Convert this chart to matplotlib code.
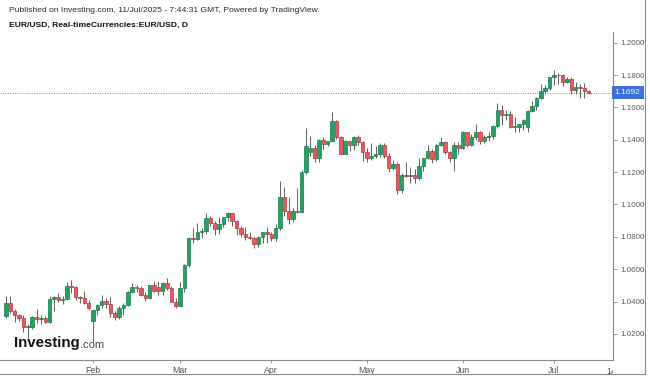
import matplotlib
matplotlib.use("Agg")
import matplotlib.pyplot as plt
import matplotlib.transforms as mtransforms
from matplotlib.lines import Line2D
import pandas as pd

plt.rcParams['font.family'] = ['Liberation Sans', 'DejaVu Sans']

# EUR/USD daily candles, 6 Jan 2025 - 11 Jul 2025 (weekdays)
dates = pd.bdate_range("2025-01-06", "2025-07-11")

opens = [
    1.0308, 1.0389, 1.0342, 1.0318, 1.0300, 1.0244, 1.0245, 1.0307, 1.0292, 1.0300,
    1.0272, 1.0415, 1.0431, 1.0410, 1.0413, 1.0495, 1.0490, 1.0430, 1.0420, 1.0390,
    1.0280, 1.0345, 1.0378, 1.0402, 1.0382, 1.0330, 1.0307, 1.0360, 1.0380, 1.0460,
    1.0490, 1.0482, 1.0443, 1.0420, 1.0500, 1.0490, 1.0465, 1.0513, 1.0485, 1.0400,
    1.0375, 1.0485, 1.0625, 1.0790, 1.0785, 1.0833, 1.0835, 1.0918, 1.0888, 1.0850,
    1.0880, 1.0920, 1.0945, 1.0900, 1.0853, 1.0815, 1.0802, 1.0790, 1.0753, 1.0800,
    1.0828,
    1.0815, 1.0792, 1.0852, 1.1045, 1.0960, 1.0910, 1.0960, 1.0955, 1.1200, 1.1325,
    1.1350, 1.1285, 1.1400, 1.1375, 1.1393, 1.1515, 1.1420, 1.1314, 1.1390, 1.1365,
    1.1420, 1.1385,
    1.1325, 1.1290, 1.1297, 1.1315, 1.1370, 1.1300, 1.1225, 1.1250, 1.1088, 1.1185,
    1.1175, 1.1185, 1.1163, 1.1240, 1.1285, 1.1330, 1.1280, 1.1365, 1.1385, 1.1325,
    1.1290, 1.1370,
    1.1350, 1.1445, 1.1370, 1.1420, 1.1445, 1.1395, 1.1420, 1.1425, 1.1485, 1.1585,
    1.1550, 1.1560, 1.1480, 1.1482, 1.1495, 1.1480, 1.1580, 1.1610, 1.1660, 1.1700,
    1.1720,
    1.1785, 1.1800, 1.1798, 1.1755, 1.1778, 1.1710, 1.1725, 1.1722, 1.1700,
]
highs = [
    1.0437, 1.0433, 1.0355, 1.0322, 1.0315, 1.0263, 1.0310, 1.0353, 1.0320, 1.0313,
    1.0433, 1.0435, 1.0455, 1.0433, 1.0522, 1.0533, 1.0495, 1.0433, 1.0467, 1.0410,
    1.0350, 1.0385, 1.0442, 1.0420, 1.0430, 1.0340, 1.0372, 1.0390, 1.0465, 1.0513,
    1.0505, 1.0494, 1.0460, 1.0505, 1.0530, 1.0528, 1.0520, 1.0546, 1.0495, 1.0422,
    1.0520, 1.0630, 1.0797, 1.0854, 1.0888, 1.0854, 1.0947, 1.0930, 1.0900, 1.0925,
    1.0925, 1.0955, 1.0950, 1.0905, 1.0870, 1.0860, 1.0830, 1.0800, 1.0805, 1.0830,
    1.0860,
    1.0830, 1.0880, 1.1144, 1.1107, 1.1046, 1.0980, 1.1100, 1.1215, 1.1474, 1.1423,
    1.1366, 1.1405, 1.1420, 1.1395, 1.1573, 1.1520, 1.1425, 1.1400, 1.1395, 1.1425,
    1.1430, 1.1395,
    1.1350, 1.1380, 1.1360, 1.1380, 1.1380, 1.1320, 1.1275, 1.1265, 1.1195, 1.1265,
    1.1230, 1.1220, 1.1290, 1.1285, 1.1365, 1.1345, 1.1375, 1.1420, 1.1390, 1.1330,
    1.1385, 1.1385,
    1.1455, 1.1450, 1.1435, 1.1495, 1.1455, 1.1430, 1.1445, 1.1490, 1.1630, 1.1615,
    1.1585, 1.1580, 1.1540, 1.1500, 1.1530, 1.1585, 1.1640, 1.1665, 1.1745, 1.1740,
    1.1790,
    1.1830, 1.1810, 1.1805, 1.1790, 1.1790, 1.1760, 1.1745, 1.1750, 1.1710,
]
lows = [
    1.0300, 1.0330, 1.0272, 1.0280, 1.0214, 1.0178, 1.0233, 1.0265, 1.0260, 1.0266,
    1.0265, 1.0340, 1.0395, 1.0385, 1.0412, 1.0456, 1.0410, 1.0390, 1.0382, 1.0347,
    1.0141, 1.0320, 1.0360, 1.0360, 1.0305, 1.0286, 1.0290, 1.0317, 1.0370, 1.0450,
    1.0460, 1.0432, 1.0403, 1.0415, 1.0460, 1.0440, 1.0443, 1.0470, 1.0395, 1.0360,
    1.0370, 1.0460, 1.0615, 1.0765, 1.0780, 1.0790, 1.0820, 1.0867, 1.0812, 1.0820,
    1.0860, 1.0900, 1.0870, 1.0812, 1.0797, 1.0780, 1.0785, 1.0733, 1.0740, 1.0765,
    1.0765,
    1.0777, 1.0775, 1.0845, 1.0930, 1.0880, 1.0890, 1.0945, 1.0945, 1.1190, 1.1300,
    1.1265, 1.1265, 1.1345, 1.1360, 1.1385, 1.1405, 1.1310, 1.1313, 1.1330, 1.1335,
    1.1370, 1.1266,
    1.1265, 1.1275, 1.1290, 1.1295, 1.1290, 1.1200, 1.1215, 1.1065, 1.1070, 1.1170,
    1.1130, 1.1130, 1.1150, 1.1205, 1.1280, 1.1255, 1.1270, 1.1360, 1.1315, 1.1265,
    1.1210, 1.1315,
    1.1340, 1.1355, 1.1360, 1.1400, 1.1375, 1.1380, 1.1395, 1.1405, 1.1470, 1.1490,
    1.1525, 1.1475, 1.1445, 1.1445, 1.1460, 1.1450, 1.1570, 1.1585, 1.1655, 1.1680,
    1.1705,
    1.1740, 1.1745, 1.1735, 1.1750, 1.1685, 1.1680, 1.1660, 1.1660, 1.1680,
]
closes = [
    1.0389, 1.0342, 1.0318, 1.0300, 1.0244, 1.0245, 1.0307, 1.0292, 1.0300, 1.0272,
    1.0415, 1.0431, 1.0410, 1.0413, 1.0495, 1.0490, 1.0430, 1.0420, 1.0390, 1.0360,
    1.0345, 1.0378, 1.0402, 1.0382, 1.0330, 1.0307, 1.0360, 1.0380, 1.0460, 1.0490,
    1.0482, 1.0443, 1.0420, 1.0500, 1.0465, 1.0465, 1.0513, 1.0485, 1.0400, 1.0375,
    1.0485, 1.0625, 1.0790, 1.0785, 1.0833, 1.0835, 1.0918, 1.0888, 1.0850, 1.0880,
    1.0920, 1.0945, 1.0900, 1.0853, 1.0815, 1.0802, 1.0790, 1.0753, 1.0800, 1.0828,
    1.0815,
    1.0792, 1.0852, 1.1045, 1.0960, 1.0910, 1.0960, 1.0955, 1.1200, 1.1360, 1.1350,
    1.1285, 1.1400, 1.1375, 1.1393, 1.1515, 1.1420, 1.1314, 1.1390, 1.1365, 1.1420,
    1.1385, 1.1325,
    1.1290, 1.1297, 1.1315, 1.1370, 1.1300, 1.1225, 1.1250, 1.1088, 1.1185, 1.1175,
    1.1185, 1.1163, 1.1240, 1.1285, 1.1330, 1.1280, 1.1365, 1.1385, 1.1325, 1.1290,
    1.1370, 1.1350,
    1.1445, 1.1370, 1.1420, 1.1445, 1.1395, 1.1420, 1.1425, 1.1485, 1.1585, 1.1550,
    1.1560, 1.1480, 1.1482, 1.1495, 1.1523, 1.1580, 1.1610, 1.1660, 1.1700, 1.1720,
    1.1785,
    1.1800, 1.1798, 1.1755, 1.1778, 1.1710, 1.1725, 1.1722, 1.1700, 1.1692,
]

price_ticks = [1.02, 1.04, 1.06, 1.08, 1.10, 1.12, 1.14, 1.16, 1.18, 1.20]
last_price = closes[-1]
month_names = ['Feb', 'Mar', 'Apr', 'May', 'Jun', 'Jul']

up_fill, up_edge = '#26a065', '#177a48'
dn_fill, dn_edge = '#e35b60', '#b0363c'
wick_col = '#5e5e5e'

W, H = 650, 377
fig = plt.figure(figsize=(W / 100, H / 100), dpi=100)
fig.patch.set_facecolor('white')

# plot area in pixel terms
left_px, right_px, top_px, bot_px = 0, 613, 32, 360
ax = fig.add_axes([left_px / W, 1 - bot_px / H,
                   (right_px - left_px) / W, (bot_px - top_px) / H])

xs = list(range(len(dates)))
for i in xs:
    o, h, l, c = opens[i], highs[i], lows[i], closes[i]
    up = c >= o
    ax.vlines(i, l, h, color=wick_col, linewidth=0.7, zorder=2)
    body = max(abs(c - o), 0.00035)
    ax.bar(i, body, bottom=min(o, c), width=0.78,
           color=up_fill if up else dn_fill,
           edgecolor=up_edge if up else dn_edge, linewidth=0.5, zorder=3)

# last price dotted line
ax.axhline(last_price, color='#6f86c8', linewidth=0.7, linestyle=(0, (1, 1.5)), zorder=1)

ax.set_xlim(-1.4, 139.6)
ax.set_ylim(1.0039, 1.2066)

for s in ['left', 'top']:
    ax.spines[s].set_visible(False)
for s in ['right', 'bottom']:
    ax.spines[s].set_color('#8a8a8a')
    ax.spines[s].set_linewidth(0.8)

ax.yaxis.tick_right()
ax.set_yticks(price_ticks)
ax.set_yticklabels([f'{p:.4f}' for p in price_ticks])
ax.tick_params(axis='y', direction='out', length=3, width=0.6, color='#8a8a8a',
               labelsize=5.8, labelcolor='#5a5a5a', pad=2)

month_pos = []
for m in range(2, 8):
    idx = [i for i, d in enumerate(dates) if d.month == m][0]
    month_pos.append(idx)
ax.set_xticks(month_pos)
ax.set_xticklabels(month_names)
ax.tick_params(axis='x', direction='out', length=2, width=0.6, color='#8a8a8a',
               labelsize=6.3, labelcolor='#505050', pad=2)

# next date label, clipped by the price scale
t14 = ax.text(139.3, -0.02, '14', transform=ax.get_xaxis_transform(),
              ha='center', va='top', fontsize=6.3, color='#505050')
t14.set_clip_on(True)
t14.set_clip_box(mtransforms.Bbox.from_extents(0, 0, right_px, H))

# last price tag
tr = mtransforms.blended_transform_factory(ax.transAxes, ax.transData)
ax.text(1.003, last_price, f'{last_price:.4f}', transform=tr, ha='left', va='center',
        fontsize=6.0, color='white', clip_on=False, zorder=5,
        bbox=dict(boxstyle='square,pad=0.35', facecolor='#3d6fd8', edgecolor='none'))

# header
fig.text(9 / W, 1 - 11 / H,
         'Published on Investing.com, 11/Jul/2025 - 7:44:31 GMT, Powered by TradingView.',
         fontsize=6.1, color='#2a2a2a', va='center', ha='left')
fig.text(9 / W, 1 - 25 / H, 'EUR/USD, Real-timeCurrencies:EUR/USD, D',
         fontsize=6.1, color='#111111', va='center', ha='left', fontweight='bold')

# logo
fig.text(14 / W, 1 - 343 / H, 'Investing', fontsize=10.8, fontweight='bold',
         color='#111111', va='center', ha='left')
fig.text(80 / W, 1 - 345 / H, '.com', fontsize=8, color='#444444',
         va='center', ha='left')

# outer frame
fig.add_artist(Line2D([645 / W, 645 / W], [1 - 374 / H, 1], transform=fig.transFigure,
                      color='#8a8a8a', linewidth=0.8))
fig.add_artist(Line2D([0, 645 / W], [1 - 374 / H, 1 - 374 / H], transform=fig.transFigure,
                      color='#8a8a8a', linewidth=0.8))

fig.savefig('out.png', dpi=100)
